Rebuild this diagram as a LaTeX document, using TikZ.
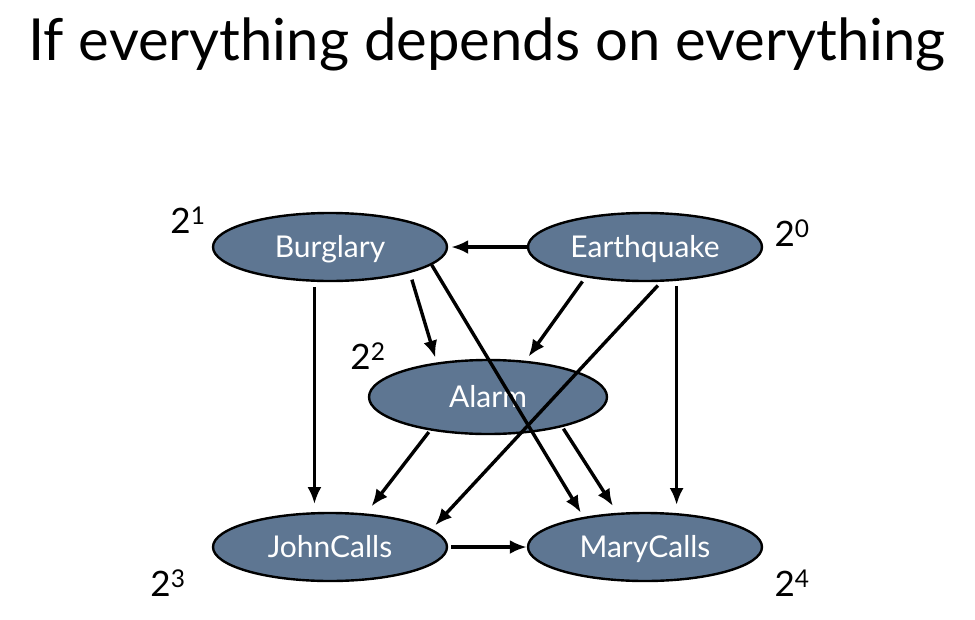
\documentclass[tikz,border=0pt]{standalone}
\usepackage{fontspec}
\setmainfont{Lato}
\usetikzlibrary{arrows.meta,shapes.geometric}
\definecolor{nodeblue}{RGB}{94,118,146}
\begin{document}
\begin{tikzpicture}[x=1pt,y=-1pt,
    var/.style={ellipse,draw=black,line width=2.4pt,fill=nodeblue,text=white,minimum width=234pt,minimum height=68pt,inner sep=0pt,text height=24pt,text depth=4pt,font=\fontsize{30}{32}\selectfont},
    edge/.style={line width=3.4pt,-{Latex[length=17pt,width=14pt]},shorten <=5pt,shorten >=5pt},
    pow/.style={font=\fontsize{35}{37}\selectfont}]
    \useasboundingbox (0,0) rectangle (975,619);
    \node[font=\fontsize{58}{62}\selectfont] (title) at (487,44) {If everything depends on everything};
    \node[var] (burglary) at (330,247) {Burglary};
    \node[var] (earthquake) at (645,247) {Earthquake};
    \node[var,minimum width=238pt,minimum height=74pt] (alarm) at (488,397) {Alarm};
    \node[var] (john) at (330,547) {JohnCalls};
    \node[var] (mary) at (645,547) {MaryCalls};
    \node[pow] (p1) at (188,220) {2\textsuperscript{1}};
    \node[pow] (p0) at (792,233) {2\textsuperscript{0}};
    \node[pow] (p2) at (368,356) {2\textsuperscript{2}};
    \node[pow] (p3) at (168,583) {2\textsuperscript{3}};
    \node[pow] (p4) at (792,583) {2\textsuperscript{4}};
    \draw[edge,shorten <=0pt,shorten >=3pt] (earthquake.west) -- (burglary.east);
    \draw[edge,shorten <=7pt] (burglary.-18) -- (alarm.146);
    \draw[edge,shorten <=0pt] (burglary.-10) -- (mary.154);
    \draw[edge] (earthquake.207) -- (alarm.44);
    \draw[edge] (earthquake.-65) -- (john.10);
    \draw[edge,shorten >=8pt] (earthquake.-47) -- (mary.47);
    \draw[edge,shorten >=8pt] (burglary.-114) -- (john.114);
    \draw[edge,shorten <=2pt,shorten >=9pt] (alarm.-150) -- (john.43);
    \draw[edge,shorten <=2pt,shorten >=8pt] (alarm.-22) -- (mary.129);
    \draw[edge,shorten <=3pt,shorten >=0pt] (john.east) -- (mary.west);
\end{tikzpicture}
\end{document}
